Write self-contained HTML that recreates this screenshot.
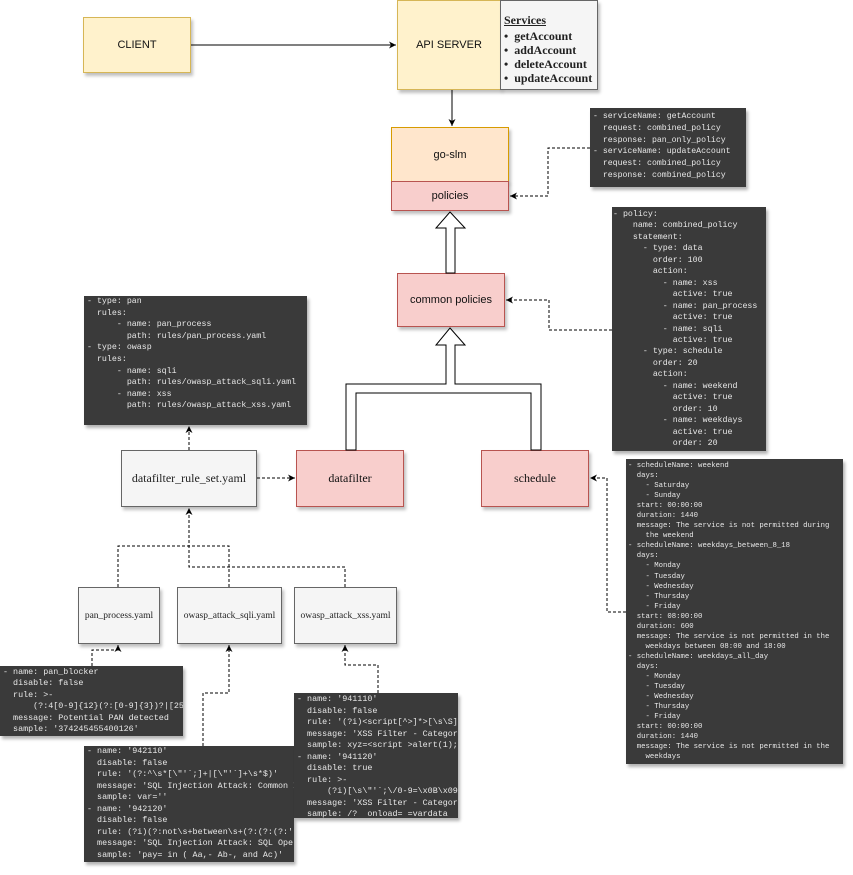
<!DOCTYPE html>
<html><head><meta charset="utf-8"><style>
body{margin:0;width:853px;height:875px;position:relative;background:#fff;overflow:hidden;font-family:"Liberation Sans",sans-serif}
.b{position:absolute;box-sizing:border-box;display:flex;align-items:center;justify-content:center;box-shadow:2px 3px 3px rgba(0,0,0,.25);color:#111}
.y{background:#fff2cc;border:1px solid #d6b656;font-size:11px}
.r{background:#f8cecc;border:1px solid #b85450;font-size:11px}
.o{background:#ffe6cc;border:1px solid #d79b00;font-size:11px}
.g{background:#f5f5f5;border:1px solid #666;font-family:"Liberation Serif",serif;color:#222}
.d{position:absolute;box-sizing:border-box;background:#3a3a3a;color:#e8e8e8;font-family:"Liberation Mono",monospace;white-space:pre;overflow:hidden;box-shadow:2px 3px 3px rgba(0,0,0,.3)}
svg{position:absolute;left:0;top:0}
</style></head><body>
<div class="b y" style="left:83px;top:17px;width:108px;height:56px">CLIENT</div>
<div class="b y" style="left:397px;top:0;width:104px;height:90px">API SERVER</div>
<div class="b g" style="left:500px;top:0;width:98px;height:90px;display:block;padding:12px 0 0 3px;font-size:12px;font-weight:bold;line-height:14px"><u>Services</u><div style="margin-top:2px">•&nbsp; getAccount<br>•&nbsp; addAccount<br>•&nbsp; deleteAccount<br>•&nbsp; updateAccount</div></div>
<div class="b o" style="left:391px;top:127px;width:118px;height:55px">go-slm</div>
<div class="b r" style="left:391px;top:181px;width:118px;height:30px">policies</div>
<div class="b r" style="left:397px;top:273px;width:108px;height:54px">common policies</div>
<div class="b g" style="left:121px;top:450px;width:136px;height:57px;font-size:12px">datafilter_rule_set.yaml</div>
<div class="b r" style="left:296px;top:450px;width:108px;height:57px;font-family:'Liberation Serif',serif;font-size:12px">datafilter</div>
<div class="b r" style="left:481px;top:450px;width:108px;height:57px;font-family:'Liberation Serif',serif;font-size:12px">schedule</div>
<div class="b g" style="left:78px;top:587px;width:82px;height:57px;font-size:9.5px">pan_process.yaml</div>
<div class="b g" style="left:177px;top:587px;width:105px;height:57px;font-size:9.5px">owasp_attack_sqli.yaml</div>
<div class="b g" style="left:294px;top:587px;width:103px;height:57px;font-size:9.5px">owasp_attack_xss.yaml</div>

<div class="d" style="left:590px;top:108px;width:156px;height:79px;font-size:8.2px;line-height:11.8px;padding:3px 0 0 3px">- serviceName: getAccount
  request: combined_policy
  response: pan_only_policy
- serviceName: updateAccount
  request: combined_policy
  response: combined_policy</div>
<div class="d" style="left:612px;top:207px;width:154px;height:244px;font-size:8.3px;line-height:11.45px;padding:2px 0 0 1px">- policy:
    name: combined_policy
    statement:
      - type: data
        order: 100
        action:
          - name: xss
            active: true
          - name: pan_process
            active: true
          - name: sqli
            active: true
      - type: schedule
        order: 20
        action:
          - name: weekend
            active: true
            order: 10
          - name: weekdays
            active: true
            order: 20</div>
<div class="d" style="left:626px;top:459px;width:217px;height:305px;font-size:7.3px;line-height:10.05px;padding:2px 0 0 2px">- scheduleName: weekend
  days:
    - Saturday
    - Sunday
  start: 00:00:00
  duration: 1440
  message: The service is not permitted during
    the weekend
- scheduleName: weekdays_between_8_18
  days:
    - Monday
    - Tuesday
    - Wednesday
    - Thursday
    - Friday
  start: 08:00:00
  duration: 600
  message: The service is not permitted in the
    weekdays between 08:00 and 18:00
- scheduleName: weekdays_all_day
  days:
    - Monday
    - Tuesday
    - Wednesday
    - Thursday
    - Friday
  start: 00:00:00
  duration: 1440
  message: The service is not permitted in the
    weekdays</div>
<div class="d" style="left:84px;top:296px;width:223px;height:129px;font-size:8.3px;line-height:11.6px;padding:0 0 0 3px">- type: pan
  rules:
      - name: pan_process
        path: rules/pan_process.yaml
- type: owasp
  rules:
      - name: sqli
        path: rules/owasp_attack_sqli.yaml
      - name: xss
        path: rules/owasp_attack_xss.yaml</div>
<div class="d" style="left:0;top:666px;width:183px;height:70px;font-size:8.4px;line-height:11.4px;padding:1px 0 0 3px">- name: pan_blocker
  disable: false
  rule: &gt;-
      (?:4[0-9]{12}(?:[0-9]{3})?|[25][1-7][0-9]{14})
  message: Potential PAN detected
  sample: '374245455400126'</div>
<div class="d" style="left:84px;top:746px;width:210px;height:116px;font-size:8.4px;line-height:11.5px;padding:0 0 0 3px">- name: '942110'
  disable: false
  rule: '(?:^\s*[\"'`;]+|[\"'`]+\s*$)'
  message: 'SQL Injection Attack: Common Injection'
  sample: var=''
- name: '942120'
  disable: false
  rule: (?i)(?:not\s+between\s+(?:(?:(?:'[^']*')
  message: 'SQL Injection Attack: SQL Operator'
  sample: 'pay= in ( Aa,- Ab-, and Ac)'</div>
<div class="d" style="left:294px;top:693px;width:164px;height:125px;font-size:8.4px;line-height:11.5px;padding:1px 0 0 3px">- name: '941110'
  disable: false
  rule: '(?i)&lt;script[^&gt;]*&gt;[\s\S]*?'
  message: 'XSS Filter - Category 1'
  sample: xyz=&lt;script &gt;alert(1);&lt;/script&gt;
- name: '941120'
  disable: true
  rule: &gt;-
      (?i)[\s\"'`;\/0-9=\x0B\x09\x0C]
  message: 'XSS Filter - Category 2'
  sample: /?  onload= =vardata</div>

<svg width="853" height="875">
<defs><marker id="a" markerWidth="8" markerHeight="8" refX="7" refY="4" orient="auto" markerUnits="userSpaceOnUse"><path d="M0,0.5 L7,4 L0,7.5 L2,4z" fill="#000"/></marker></defs>
<g stroke="#000" fill="none" stroke-width="1">
<line x1="191" y1="45" x2="396" y2="45" marker-end="url(#a)"/>
<line x1="452" y1="90" x2="452" y2="126" marker-end="url(#a)"/>
</g>
<g stroke="#000" fill="none" stroke-width="1" stroke-dasharray="3,2">
<polyline points="590,148 548,148 548,196 510,196" marker-end="url(#a)"/>
<polyline points="612,330 549,330 549,300 506,300" marker-end="url(#a)"/>
<polyline points="626,612 607,612 607,478 590,478" marker-end="url(#a)"/>
<line x1="189" y1="450" x2="189" y2="426" marker-end="url(#a)"/>
<line x1="257" y1="478" x2="295" y2="478" marker-end="url(#a)"/>
<polyline points="118,587 118,546 229,546 229,587"/>
<polyline points="345,587 345,567 189,567 189,508" marker-end="url(#a)"/>
<polyline points="92,666 92,650 118,650 118,645" marker-end="url(#a)"/>
<polyline points="203,746 203,693 229,693 229,645" marker-end="url(#a)"/>
<polyline points="378,693 378,665 345,665 345,645" marker-end="url(#a)"/>
</g>
<g stroke="#000" fill="#fff" stroke-width="1">
<polygon points="450,212 465,228 455,228 455,273 446,273 446,228 436,228"/>
<polygon points="450,328 465,345 455,345 455,384 541,384 541,450 531,450 531,393 356,393 356,450 346,450 346,384 446,384 446,345 436,345"/>
</g>
</svg>
</body></html>
